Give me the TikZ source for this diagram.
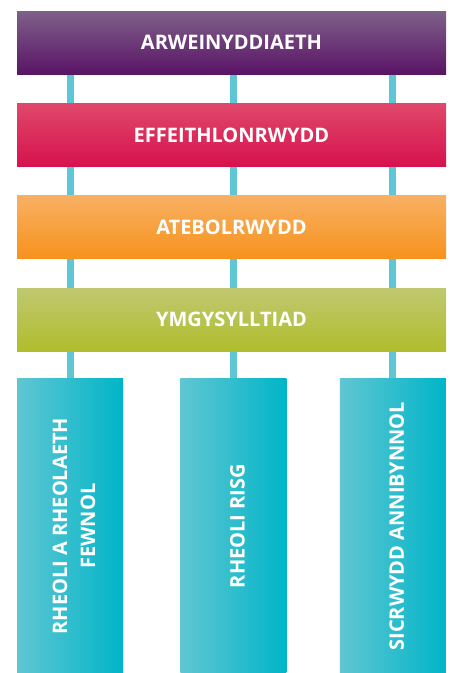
\documentclass[tikz,border=0pt]{standalone}
\usepackage{fontspec}
\setmainfont{Open Sans}
\usetikzlibrary{positioning,backgrounds}

\definecolor{leadtop}{HTML}{7E6189}
\definecolor{leadbot}{HTML}{5A1466}
\definecolor{efftop}{HTML}{E0486A}
\definecolor{effbot}{HTML}{D6124E}
\definecolor{atetop}{HTML}{F8B063}
\definecolor{atebot}{HTML}{F7921C}
\definecolor{ymgtop}{HTML}{C0C870}
\definecolor{ymgbot}{HTML}{B0BD2C}
\definecolor{pilleft}{HTML}{60C6D3}
\definecolor{pilright}{HTML}{00B5C8}
\definecolor{linkblue}{HTML}{5EC6D4}

\begin{document}
\begin{tikzpicture}[x=1pt, y=-1pt, node distance=29pt,
  bar/.style={minimum width=429pt, minimum height=63pt, inner sep=0pt,
    text=white, font=\bfseries\fontsize{20}{24}\selectfont},
  pillar/.style={minimum width=106pt, minimum height=295pt, inner sep=0pt,
    left color=pilleft, right color=pilright},
  pillartext/.style={rotate=90, text=white, align=center,
    font=\bfseries\fontsize{20}{28}\selectfont},
  link/.style={draw=linkblue, line width=7pt}]
  \useasboundingbox (0,0) rectangle (451,673);
  \node[bar, top color=leadtop, bottom color=leadbot] (lead) at (231.5,42.5) {ARWEINYDDIAETH};
  \node[bar, top color=efftop, bottom color=effbot, below=of lead] (eff) {EFFEITHLONRWYDD};
  \node[bar, top color=atetop, bottom color=atebot, below=of eff] (ate) {ATEBOLRWYDD};
  \node[bar, top color=ymgtop, bottom color=ymgbot, below=of ate] (ymg) {YMGYSYLLTIAD};

  \node[pillar, below=27pt of ymg.south west, anchor=north west] (rheoli) {};
  \node[pillar, right=57pt of rheoli] (risg) {};
  \node[pillar, right=53pt of risg] (sicr) {};
  \node[pillartext, yshift=-4pt] (rheolitext) at (rheoli) {RHEOLI A RHEOLAETH\\FEWNOL};
  \node[pillartext, yshift=-4pt] (risgtext) at (risg) {RHEOLI RISG};
  \node[pillartext, yshift=-4pt] (sicrtext) at (sicr) {SICRWYDD ANNIBYNNOL};

  % uprights behind the bars
  \begin{scope}[on background layer]
    \draw[link] (rheoli.north) -- (rheoli.north |- lead.south);
    \draw[link] (risg.north) -- (risg.north |- lead.south);
    \draw[link] (sicr.north) -- (sicr.north |- lead.south);
  \end{scope}
\end{tikzpicture}
\end{document}
